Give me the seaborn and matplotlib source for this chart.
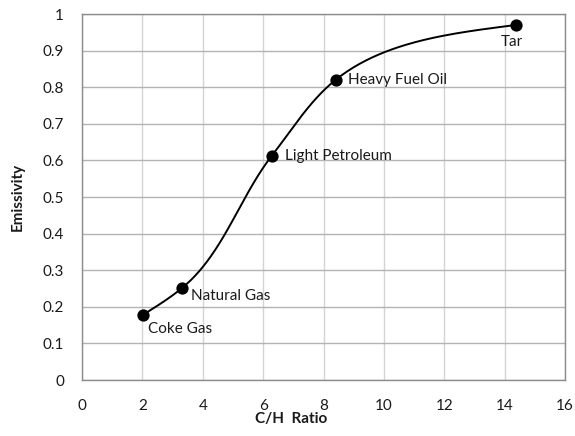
import numpy as np
import pandas as pd
import matplotlib
matplotlib.use("Agg")
import matplotlib.pyplot as plt
import seaborn as sns

# ---- data ----
fuels = ["Coke Gas", "Natural Gas", "Light Petroleum", "Heavy Fuel Oil", "Tar"]
ch_ratio = [2.02, 3.31, 6.29, 8.40, 14.37]
emissivity = [0.178, 0.251, 0.613, 0.820, 0.970]
x_ticks = [0, 2, 4, 6, 8, 10, 12, 14, 16]
y_ticks = [0, 0.1, 0.2, 0.3, 0.4, 0.5, 0.6, 0.7, 0.8, 0.9, 1]
y_tick_labels = ["0", "0.1", "0.2", "0.3", "0.4", "0.5", "0.6", "0.7", "0.8", "0.9", "1"]
x_label = "C/H  Ratio"
y_label = "Emissivity"

# label placement (offset in pixels, horizontal alignment) - styling only
label_offsets = [(5, -14, "left"), (9, -8, "left"), (13, 0, "left"),
                 (12, 0, "left"), (-4, -17, "center")]

sns.set_theme(style="whitegrid")
plt.rcParams["font.family"] = ["Lato", "DejaVu Sans"]

W, H = 575, 436
fig = plt.figure(figsize=(W / 100, H / 100), dpi=100)
L, R, T, B = 82, 565, 14, 380
ax = fig.add_axes([L / W, 1 - B / H, (R - L) / W, (B - T) / H])

xmin, xmax, ymin, ymax = 0, 16, 0, 1
sx = (R - L) / (xmax - xmin)
sy = (B - T) / (ymax - ymin)


def smooth_curve(xs, ys, n=80):
    P = np.column_stack([np.asarray(xs) * sx, np.asarray(ys) * sy])
    seg = np.diff(P, axis=0)
    d = np.linalg.norm(seg, axis=1)
    u = seg / d[:, None]
    m = len(P)
    Tg = np.zeros_like(P)
    for i in range(1, m - 1):
        t = d[i] * u[i - 1] + d[i - 1] * u[i]
        Tg[i] = t / np.linalg.norm(t)
    par = 2 * u[0] - Tg[1]
    par /= np.linalg.norm(par)
    t0 = u[0] + par
    Tg[0] = t0 / np.linalg.norm(t0)
    par = 2 * u[-1] - Tg[-2]
    par /= np.linalg.norm(par)
    t1 = u[-1] + par
    Tg[-1] = t1 / np.linalg.norm(t1)
    out = []
    tt = np.linspace(0, 1, n)[:, None]
    for i in range(m - 1):
        b0 = P[i]
        b1 = P[i] + Tg[i] * d[i] / 3
        b2 = P[i + 1] - Tg[i + 1] * d[i] / 3
        b3 = P[i + 1]
        c = ((1 - tt) ** 3) * b0 + 3 * ((1 - tt) ** 2) * tt * b1 \
            + 3 * (1 - tt) * tt ** 2 * b2 + tt ** 3 * b3
        out.append(c if i == 0 else c[1:])
    c = np.vstack(out)
    return c[:, 0] / sx, c[:, 1] / sy


cx, cy = smooth_curve(ch_ratio, emissivity)
curve = pd.DataFrame({"x": cx, "y": cy})
pts = pd.DataFrame({"fuel": fuels, "ch": ch_ratio, "em": emissivity})

sns.lineplot(data=curve, x="x", y="y", sort=False, estimator=None,
             color="black", linewidth=1.4, ax=ax, zorder=3)
sns.scatterplot(data=pts, x="ch", y="em", color="black", s=78,
                edgecolor="black", linewidth=0, ax=ax, zorder=4)

for (name, xv, yv), (dx, dy, ha) in zip(zip(fuels, ch_ratio, emissivity), label_offsets):
    ax.annotate(name, (xv, yv), xytext=(dx, dy), textcoords="offset pixels",
                ha=ha, va="center", fontsize=11, color="#1a1a1a")

ax.set_xlim(xmin, xmax)
ax.set_ylim(ymin, ymax)
ax.set_xticks(x_ticks)
ax.set_xticklabels([str(v) for v in x_ticks])
ax.set_yticks(y_ticks)
ax.set_yticklabels(y_tick_labels)
ax.tick_params(axis="both", length=0, labelsize=11, labelcolor="#1a1a1a")
ax.tick_params(axis="x", pad=14)
ax.tick_params(axis="y", pad=13)

ax.set_facecolor("white")
ax.grid(False)
ax.xaxis.grid(True, color="#d4d4d4", linewidth=1.0)
ax.yaxis.grid(True, color="#b3b3b3", linewidth=1.0)
ax.set_axisbelow(True)
for sp in ax.spines.values():
    sp.set_color("#8c8c8c")
    sp.set_linewidth(1.0)

ax.set_xlabel(x_label, fontsize=11, fontweight="bold", va="center", color="#1a1a1a")
ax.set_ylabel(y_label, fontsize=11, fontweight="bold", va="center", color="#1a1a1a")
ax.xaxis.set_label_coords((291 - L) / (R - L), -(419 - B) / (B - T))
ax.yaxis.set_label_coords((18 - L) / (R - L), 0.5)

fig.savefig("out.png", dpi=100, facecolor="white")
